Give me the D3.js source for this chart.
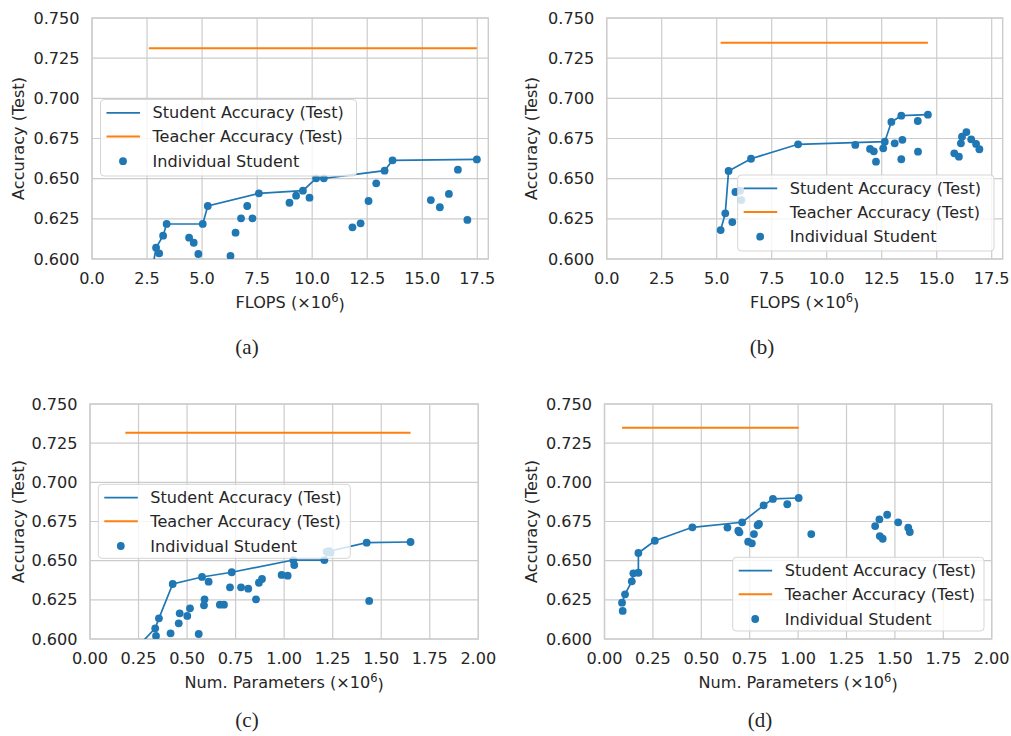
<!DOCTYPE html>
<meta charset="utf-8">
<script src="https://d3js.org/d3.v7.min.js"></script>
<style>
body {margin: 0; background: #fff;}
svg text {font-family: "DejaVu Sans", sans-serif; fill: #262626;}
.grid line {stroke: #cccccc; stroke-width: 1.2;}
.spine {fill: none; stroke: #cccccc; stroke-width: 1.4;}
.panel-label {font-family: "Liberation Serif", "Times New Roman", serif; font-size: 21px;}
</style>
<body>
<div id="vis"></div>
<script>
// ---- data ----
var yTicks = [0.600, 0.625, 0.650, 0.675, 0.700, 0.725, 0.750];
var flopsTicks = [0, 2.5, 5, 7.5, 10, 12.5, 15, 17.5];
var paramTicks = [0, 0.25, 0.5, 0.75, 1, 1.25, 1.5, 1.75, 2];

// (a) FLOPS, run 1
var aFrontX = [2.58, 2.91, 3.23, 3.39, 5.03, 5.26, 7.58, 9.58, 10.18, 10.53, 13.29, 13.65, 17.48];
var aFrontY = [0.581, 0.607, 0.6145, 0.6218, 0.6218, 0.633, 0.6409, 0.6425, 0.6502, 0.6502, 0.655, 0.6614, 0.662];
var aOtherX = [3.05, 4.41, 4.62, 4.83, 6.29, 6.52, 6.77, 7.29, 7.05, 8.97, 9.27, 9.88, 11.83, 12.2, 12.56, 12.91, 15.39, 15.8, 16.21, 16.62, 17.05];
var aOtherY = [0.6035, 0.6133, 0.6101, 0.6031, 0.6019, 0.6164, 0.6253, 0.6253, 0.633, 0.635, 0.6394, 0.6382, 0.6197, 0.6222, 0.6361, 0.6471, 0.6367, 0.6322, 0.6405, 0.6556, 0.6243];
var aTeacher = 0.7311;

// (b) FLOPS, run 2
var bFrontX = [5.18, 5.39, 5.54, 6.56, 8.70, 12.64, 12.94, 13.39, 14.60];
var bFrontY = [0.618, 0.6284, 0.6548, 0.6624, 0.6714, 0.673, 0.6853, 0.6892, 0.6898];
var bOtherX = [5.71, 5.85, 6.06, 6.12, 11.30, 11.97, 12.14, 12.24, 12.57, 13.09, 13.44, 13.39, 14.14, 14.15, 15.8, 16.01, 16.1, 16.15, 16.35, 16.57, 16.79, 16.94];
var bOtherY = [0.623, 0.6417, 0.6425, 0.6367, 0.671, 0.6685, 0.667, 0.6606, 0.6689, 0.672, 0.6742, 0.6621, 0.6859, 0.6668, 0.6658, 0.6637, 0.672, 0.6761, 0.679, 0.6745, 0.6716, 0.6683];
var bTeacher = 0.7346;

// (c) parameters, run 1
var cFrontX = [0.182, 0.336, 0.355, 0.426, 0.577, 0.730, 1.047, 1.207, 1.232, 1.425, 1.651];
var cFrontY = [0.587, 0.6068, 0.6132, 0.6351, 0.6396, 0.6426, 0.6504, 0.6504, 0.656, 0.6615, 0.6619];
var cOtherX = [0.340, 0.415, 0.457, 0.462, 0.501, 0.515, 0.560, 0.590, 0.587, 0.611, 0.669, 0.690, 0.721, 0.778, 0.815, 0.855, 0.870, 0.886, 0.987, 1.018, 1.052, 1.438, 1.219, 1.239];
var cOtherY = [0.6019, 0.6036, 0.61, 0.6164, 0.6147, 0.6196, 0.6032, 0.6253, 0.6215, 0.6366, 0.6219, 0.6219, 0.633, 0.633, 0.6321, 0.6253, 0.6359, 0.6383, 0.6409, 0.6404, 0.6472, 0.6243, 0.6557, 0.6551];
var cTeacher = 0.7317;

// (d) parameters, run 2
var dFrontX = [0.0905, 0.106, 0.141, 0.149, 0.175, 0.175, 0.260, 0.454, 0.711, 0.822, 0.870, 1.003];
var dFrontY = [0.6232, 0.6285, 0.6368, 0.6419, 0.6423, 0.6549, 0.6627, 0.6713, 0.6745, 0.6853, 0.6894, 0.690];
var dOtherX = [0.094, 0.635, 0.691, 0.697, 0.742, 0.761, 0.772, 0.791, 0.798, 0.944, 1.068, 1.398, 1.420, 1.422, 1.437, 1.460, 1.517, 1.569, 1.577];
var dOtherY = [0.6179, 0.6711, 0.6691, 0.6681, 0.6621, 0.6611, 0.667, 0.6726, 0.6734, 0.686, 0.667, 0.6721, 0.6764, 0.6657, 0.664, 0.6793, 0.6745, 0.671, 0.6683];
var dTeacher = 0.7349;

var legendNames = ["Student Accuracy (Test)", "Teacher Accuracy (Test)", "Individual Student"];

// ---- layout ----
var panels = [
  {id: "a", fx: aFrontX, fy: aFrontY, ox: aOtherX, oy: aOtherY, teacher: aTeacher,
   left: 92, right: 488.3, top: 18, bottom: 259, xmax: 18, ticks: flopsTicks, fmt: ".1f",
   xlabel: "FLOPS (×10", ylabX: 18.3, legend: [100.5, 99.5, 256, 76.5], tag: [247, 354]},
  {id: "b", fx: bFrontX, fy: bFrontY, ox: bOtherX, oy: bOtherY, teacher: bTeacher,
   left: 606.7, right: 1002.7, top: 18, bottom: 259, xmax: 18, ticks: flopsTicks, fmt: ".1f",
   xlabel: "FLOPS (×10", ylabX: 531.7, legend: [737.7, 175, 256.3, 76], tag: [762, 354]},
  {id: "c", fx: cFrontX, fy: cFrontY, ox: cOtherX, oy: cOtherY, teacher: cTeacher,
   left: 90, right: 478.3, top: 404, bottom: 639, xmax: 2, ticks: paramTicks, fmt: ".2f",
   xlabel: "Num. Parameters (×10", ylabX: 18.3, legend: [98.3, 484.3, 252, 74], tag: [247, 727]},
  {id: "d", fx: dFrontX, fy: dFrontY, ox: dOtherX, oy: dOtherY, teacher: dTeacher,
   left: 604.5, right: 991.7, top: 404, bottom: 639, xmax: 2, ticks: paramTicks, fmt: ".2f",
   xlabel: "Num. Parameters (×10", ylabX: 531.7, legend: [732.7, 557.3, 251.3, 73.7], tag: [760, 727]}
];

var blue = "#1f77b4", orange = "#ff7f0e";
var fontSize = 16.1;

var svg = d3.select("#vis")
  .append("svg")
  .attr("width", 1011)
  .attr("height", 736);

panels.forEach(function(p) {
  var x = d3.scaleLinear().domain([0, p.xmax]).range([p.left, p.right]);
  var y = d3.scaleLinear().domain([0.6, 0.75]).range([p.bottom, p.top]);
  var g = svg.append("g");

  // clip to the plot area
  g.append("clipPath").attr("id", "clip-" + p.id)
    .append("rect")
    .attr("x", p.left).attr("y", p.top)
    .attr("width", p.right - p.left).attr("height", p.bottom - p.top);

  // grid
  var grid = g.append("g").attr("class", "grid");
  grid.selectAll(".vx").data(p.ticks).enter().append("line")
    .attr("x1", x).attr("x2", x)
    .attr("y1", p.top).attr("y2", p.bottom);
  grid.selectAll(".hy").data(yTicks).enter().append("line")
    .attr("x1", p.left).attr("x2", p.right)
    .attr("y1", y).attr("y2", y);

  g.append("rect").attr("class", "spine")
    .attr("x", p.left).attr("y", p.top)
    .attr("width", p.right - p.left).attr("height", p.bottom - p.top);

  // tick labels
  g.selectAll(".xt").data(p.ticks).enter().append("text")
    .attr("x", x).attr("y", p.bottom + 19)
    .attr("dy", "0.35em")
    .attr("text-anchor", "middle")
    .style("font-size", fontSize + "px")
    .text(d3.format(p.fmt));
  g.selectAll(".yt").data(yTicks).enter().append("text")
    .attr("x", p.left - 12.5).attr("y", y)
    .attr("dy", "0.35em")
    .attr("text-anchor", "end")
    .style("font-size", fontSize + "px")
    .text(d3.format(".3f"));

  // axis labels
  var xl = g.append("text")
    .attr("x", (p.left + p.right) / 2).attr("y", p.bottom + 43)
    .attr("dy", "0.35em")
    .attr("text-anchor", "middle")
    .style("font-size", fontSize + "px")
    .text(p.xlabel);
  xl.append("tspan").attr("dy", "-0.45em").style("font-size", "11.5px").text("6");
  xl.append("tspan").attr("dy", "0.45em").text(")");

  g.append("text")
    .attr("transform", "translate(" + p.ylabX + "," + (p.top + p.bottom) / 2 + ") rotate(-90)")
    .attr("dy", "0.35em")
    .attr("text-anchor", "middle")
    .style("font-size", fontSize + "px")
    .text("Accuracy (Test)");

  g.append("text").attr("class", "panel-label")
    .attr("x", p.tag[0]).attr("y", p.tag[1])
    .attr("text-anchor", "middle")
    .text("(" + p.id + ")");

  // marks
  var plot = g.append("g").attr("clip-path", "url(#clip-" + p.id + ")");
  var front = p.fx.map(function(v, i) { return [v, p.fy[i]]; });
  var others = p.ox.map(function(v, i) { return [v, p.oy[i]]; });

  plot.append("line")
    .attr("x1", x(d3.min(p.fx))).attr("x2", x(d3.max(p.fx)))
    .attr("y1", y(p.teacher)).attr("y2", y(p.teacher))
    .attr("stroke", orange).attr("stroke-width", 2);

  plot.append("path")
    .datum(front)
    .attr("fill", "none")
    .attr("stroke", blue)
    .attr("stroke-width", 1.7)
    .attr("d", d3.line().x(function(d) { return x(d[0]); }).y(function(d) { return y(d[1]); }));

  plot.selectAll(".dot").data(front.concat(others)).enter().append("circle")
    .attr("cx", function(d) { return x(d[0]); })
    .attr("cy", function(d) { return y(d[1]); })
    .attr("r", 3.9)
    .attr("fill", blue);

  // legend
  var L = p.legend;
  var leg = g.append("g").attr("transform", "translate(" + L[0] + "," + L[1] + ")");
  leg.append("rect")
    .attr("width", L[2]).attr("height", L[3])
    .attr("rx", 3.5)
    .attr("fill", "#fff").attr("fill-opacity", 0.8)
    .attr("stroke", "#d5d5d5").attr("stroke-width", 1);
  var rows = [13.3, 37, 61.7];
  legendNames.forEach(function(name, i) {
    if (i < 2) {
      leg.append("line")
        .attr("x1", 6).attr("x2", 39.5)
        .attr("y1", rows[i]).attr("y2", rows[i])
        .attr("stroke", i == 0 ? blue : orange)
        .attr("stroke-width", i == 0 ? 1.7 : 2);
    } else {
      leg.append("circle").attr("cx", 22.5).attr("cy", rows[i]).attr("r", 3.9).attr("fill", blue);
    }
    leg.append("text")
      .attr("x", 52).attr("y", rows[i])
      .attr("dy", "0.35em")
      .style("font-size", fontSize + "px")
      .text(name);
  });
});
</script>
</body>
